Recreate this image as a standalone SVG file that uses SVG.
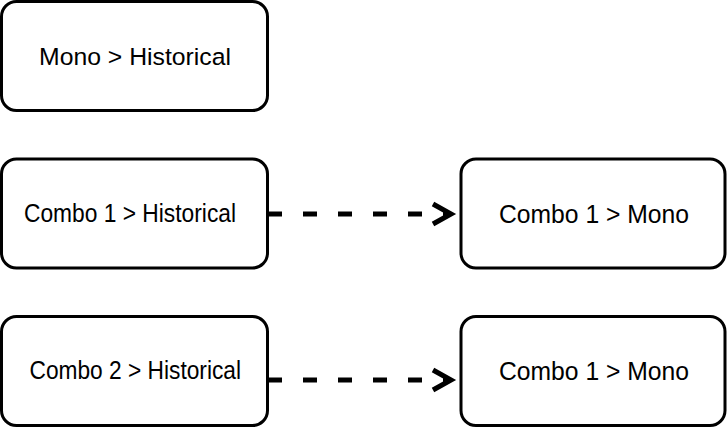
<svg xmlns="http://www.w3.org/2000/svg" width="728" height="428" viewBox="0 0 728 428">
  <defs>
    <style>
      .box { fill: #ffffff; stroke: #000000; stroke-width: 3; }
      .label { font-family: "Liberation Sans", Arial, sans-serif; fill: #000000; }
      .big { font-size: 24.5px; }
      .tall { font-size: 25px; }
      .link { fill: none; stroke: #000000; stroke-width: 5; stroke-dasharray: 14 21; }
      .head { fill: none; stroke: #000000; stroke-width: 5; stroke-linejoin: miter; stroke-linecap: butt; }
    </style>
  </defs>
  <rect width="728" height="428" fill="#ffffff"/>

  <g id="mono-historical">
    <rect class="box" x="1.5" y="1.5" width="266" height="109" rx="15" ry="15"/>
    <text class="label big" x="39" y="65" textLength="192" lengthAdjust="spacingAndGlyphs">Mono &gt; Historical</text>
  </g>

  <g id="combo1-historical">
    <rect class="box" x="1.5" y="159" width="266" height="109" rx="15" ry="15"/>
    <text class="label tall" x="24" y="222" textLength="212" lengthAdjust="spacingAndGlyphs">Combo 1 &gt; Historical</text>
  </g>

  <g id="combo1-mono-a">
    <rect class="box" x="461" y="159" width="264" height="109" rx="15" ry="15"/>
    <text class="label tall" x="499" y="223" textLength="190" lengthAdjust="spacingAndGlyphs">Combo 1 &gt; Mono</text>
  </g>

  <g id="combo2-historical">
    <rect class="box" x="1.5" y="316.5" width="266" height="109" rx="15" ry="15"/>
    <text class="label tall" x="29.5" y="379" textLength="211.5" lengthAdjust="spacingAndGlyphs">Combo 2 &gt; Historical</text>
  </g>

  <g id="combo1-mono-b">
    <rect class="box" x="461" y="316.5" width="264" height="109" rx="15" ry="15"/>
    <text class="label tall" x="499" y="380" textLength="190" lengthAdjust="spacingAndGlyphs">Combo 1 &gt; Mono</text>
  </g>

  <g id="connectors">
    <path class="link" d="M268 214 H450"/>
    <path class="head" d="M433 204 L451 214 L433 224"/>
    <path class="link" d="M268 380 H450"/>
    <path class="head" d="M433 370 L451 380 L433 390"/>
  </g>
</svg>
